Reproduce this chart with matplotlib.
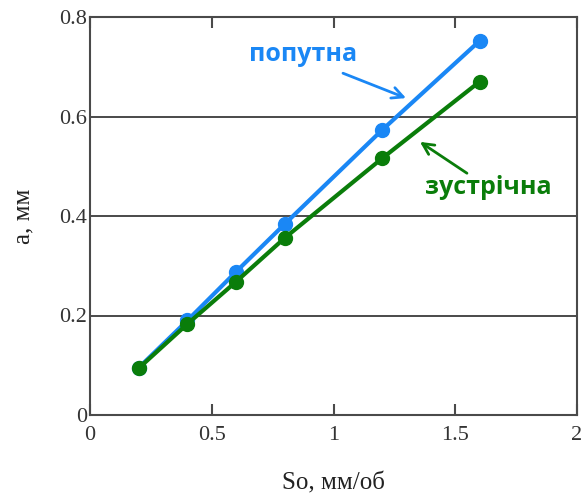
import numpy as np
import matplotlib.pyplot as plt

# подача, мм/об
so = [0.2, 0.4, 0.6, 0.8, 1.2, 1.6]
# товщина зрізу, мм
a_poputna = [0.095, 0.19, 0.288, 0.384, 0.573, 0.752]
a_zustrichna = [0.094, 0.183, 0.268, 0.356, 0.516, 0.67]

x_ticks = [0, 0.5, 1, 1.5, 2]
x_ticklabels = ['0', '0.5', '1', '1.5', '2']
y_ticks = [0, 0.2, 0.4, 0.6, 0.8]
y_ticklabels = ['0', '0.2', '0.4', '0.6', '0.8']

BLUE = '#1a87f5'
GREEN = '#0a7d0a'
GRAY = '#4a4a4a'

fig = plt.figure(figsize=(5.81, 4.96), dpi=100)
ax = fig.add_axes([90 / 581, 1 - 415 / 496, 487 / 581, 398 / 496])

for y in y_ticks[1:-1]:
    ax.axhline(y, color=GRAY, lw=1.4, zorder=1)

ax.plot(so, a_poputna, color=BLUE, lw=3, marker='o', ms=10, zorder=3)
ax.plot(so, a_zustrichna, color=GREEN, lw=3, marker='o', ms=10, zorder=4)

ax.set_xlim(0, 2)
ax.set_ylim(0, 0.8)
ax.set_xticks(x_ticks)
ax.set_xticklabels(x_ticklabels)
ax.set_yticks(y_ticks)
ax.set_yticklabels(y_ticklabels)

for s in ax.spines.values():
    s.set_color(GRAY)
    s.set_linewidth(1.5)

ax.tick_params(axis='x', direction='in', length=8, width=1.5, color=GRAY,
               top=True, pad=8)
ax.tick_params(axis='y', length=0, pad=2)
ax.tick_params(labelsize=16, labelcolor='#333333')
for lab in ax.get_xticklabels() + ax.get_yticklabels():
    lab.set_family('Liberation Serif')

ax.set_xlabel('So, мм/об', family='Liberation Serif', fontsize=18,
              color='#222222', labelpad=20)
ax.set_ylabel('a, мм', family='Liberation Serif', fontsize=18,
              color='#222222', labelpad=18)

# підписи кривих
ax.text(0.875, 0.724, 'попутна', color=BLUE, fontsize=18, fontweight='bold',
        family='Open Sans', ha='center', va='center')
ax.annotate('', xy=(1.298, 0.637), xytext=(1.039, 0.687),
            arrowprops=dict(arrowstyle='->', color=BLUE, lw=2,
                            shrinkA=0, shrinkB=0, mutation_scale=20))
ax.text(1.635, 0.458, 'зустрічна', color=GREEN, fontsize=18,
        fontweight='bold', family='Open Sans', ha='center', va='center')
ax.annotate('', xy=(1.355, 0.549), xytext=(1.548, 0.486),
            arrowprops=dict(arrowstyle='->', color=GREEN, lw=2,
                            shrinkA=0, shrinkB=0, mutation_scale=20))

fig.savefig('out.png', dpi=100)
